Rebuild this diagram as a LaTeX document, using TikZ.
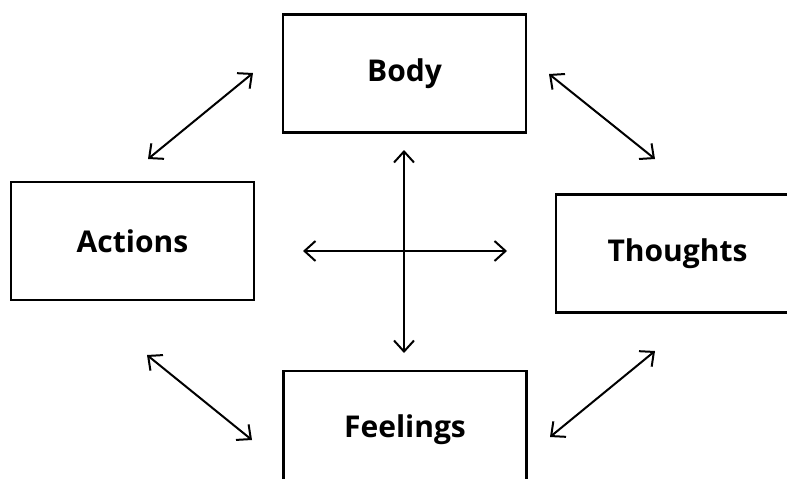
\documentclass[tikz,border=0pt]{standalone}
\usepackage{fontspec}
\setmainfont{Open Sans}
\usetikzlibrary{arrows.meta}

\tikzset{
  areabox/.style={draw, line width=2.4pt, minimum width=243pt, minimum height=118pt,
    inner sep=0pt, font=\bfseries\fontsize{30}{34}\selectfont},
  link/.style={line width=2pt, {Straight Barb[length=11pt,width=20pt]}-{Straight Barb[length=11pt,width=20pt]}}
}

\begin{document}
\begin{tikzpicture}[x=1pt, y=-1pt]
  \useasboundingbox (0, 0) rectangle (787, 479);
  \clip (0, 0) rectangle (787, 479);

  \node[areabox] (body)     at (404.5, 73.5) {Body};
  \node[areabox] (actions)  at (132.5, 241)  {Actions};
  \node[areabox] (thoughts) at (677.5, 253.5) {Thoughts};
  \node[areabox] (feelings) at (405, 430)    {Feelings};

  % ends of the diagonal links
  \coordinate (ab1) at (148, 159);  \coordinate (ab2) at (253, 73);
  \coordinate (bt1) at (549, 74);   \coordinate (bt2) at (655, 159);
  \coordinate (af1) at (147, 355);  \coordinate (af2) at (252, 440);
  \coordinate (ft1) at (550, 437);  \coordinate (ft2) at (655, 351);

  \draw[link] (ab1) -- (ab2);
  \draw[link] (bt1) -- (bt2);
  \draw[link] (af1) -- (af2);
  \draw[link] (ft1) -- (ft2);

  % central cross
  \coordinate (hub) at (404, 251);
  \coordinate (up)    at (404, 150);
  \coordinate (down)  at (404, 353);
  \coordinate (left)  at (303, 251);
  \coordinate (right) at (507, 251);
  \draw[link] (up) -- (down);
  \draw[link] (left) -- (right);
\end{tikzpicture}
\end{document}
